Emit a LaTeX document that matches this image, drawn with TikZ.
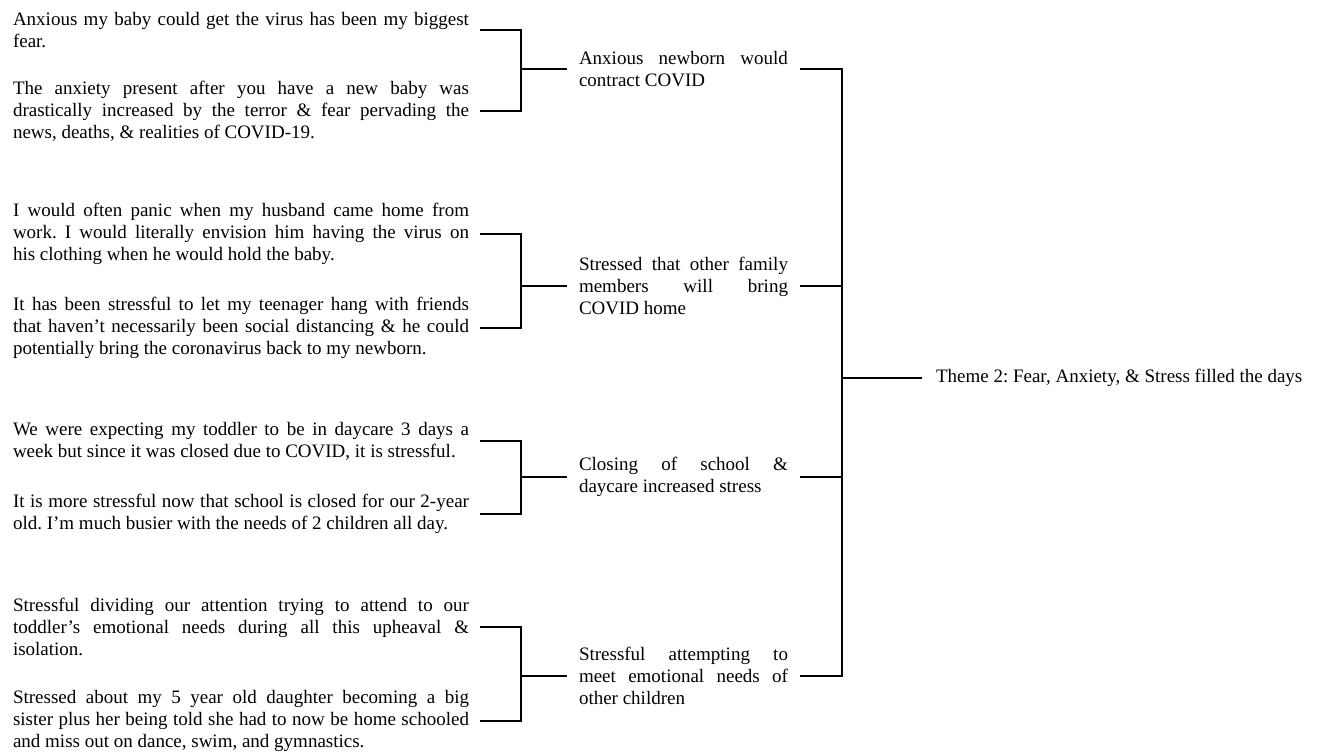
\documentclass[tikz,border=0pt]{standalone}
\usepackage{fontspec}
\setmainfont{Liberation Serif}
\usepackage{tikz}

\tikzset{
  quote/.style={anchor=west, text width=342pt, align=justify, inner sep=0pt, outer xsep=8.25pt},
  subtheme/.style={anchor=west, text width=156.75pt, align=justify, inner sep=0pt, outer xsep=9pt},
  theme/.style={anchor=west, inner sep=0pt, outer xsep=10.5pt},
  link/.style={line width=1.3pt}
}

\begin{document}
\frenchspacing
\begin{tikzpicture}[x=0.75pt,y=0.75pt,yscale=-1,xscale=1,
  every node/.append style={font=\fontsize{14.25pt}{16.5pt}\selectfont}]
\useasboundingbox (0,0) rectangle (1323,755);

%Quotes: newborn
\node [quote] (q1) at (2,30) {Anxious my baby could get the virus has been my biggest\linebreak fear.};
\node [quote] (q2) at (2,111) {The anxiety present after you have a new baby was\linebreak drastically increased by the terror \& fear pervading the\linebreak news, deaths, \& realities of COVID-19.};
%Quotes: family
\node [quote] (q3) at (2,234) {I would often panic when my husband came home from\linebreak work. I would literally envision him having the virus on\linebreak his clothing when he would hold the baby.};
\node [quote] (q4) at (2,328) {It has been stressful to let my teenager hang with friends\linebreak that haven’t necessarily been social distancing \& he could\linebreak potentially bring the coronavirus back to my newborn.};
%Quotes: school
\node [quote] (q5) at (2,441) {We were expecting my toddler to be in daycare 3 days a\linebreak week but since it was closed due to COVID, it is stressful.};
\node [quote] (q6) at (2,514) {It is more stressful now that school is closed for our 2-year\linebreak old. I’m much busier with the needs of 2 children all day.};
%Quotes: children
\node [quote] (q7) at (2,627) {Stressful dividing our attention trying to attend to our\linebreak toddler’s emotional needs during all this upheaval \&\linebreak isolation.};
\node [quote] (q8) at (2,721) {Stressed about my 5 year old daughter becoming a big\linebreak sister plus her being told she had to now be home schooled\linebreak and miss out on dance, swim, and gymnastics.};

%Sub-themes
\node [subtheme] (m1) at (567,69) {Anxious newborn would\linebreak contract COVID};
\node [subtheme] (m2) at (567,286) {Stressed that other family\linebreak members will bring\linebreak COVID home};
\node [subtheme] (m3) at (567,477) {Closing of school \&\linebreak daycare increased stress};
\node [subtheme] (m4) at (567,676) {Stressful attempting to\linebreak meet emotional needs of\linebreak other children};

%Theme
\node [theme] (t) at (922,378) {Theme 2: Fear, Anxiety, \& Stress filled the days};

%Brackets
\draw [link] (q1.east) -- ++(41,0) |- (m1.west);
\draw [link] (q2.east) -- ++(41,0) |- (m1.west);
\draw [link] (q3.east) -- ++(41,0) |- (m2.west);
\draw [link] (q4.east) -- ++(41,0) |- (m2.west);
\draw [link] (q5.east) -- ++(41,0) |- (m3.west);
\draw [link] (q6.east) -- ++(41,0) |- (m3.west);
\draw [link] (q7.east) -- ++(41,0) |- (m4.west);
\draw [link] (q8.east) -- ++(41,0) |- (m4.west);

\draw [link] (m1.east) -- ++(42,0) |- (t.west);
\draw [link] (m2.east) -- ++(42,0) |- (t.west);
\draw [link] (m3.east) -- ++(42,0) |- (t.west);
\draw [link] (m4.east) -- ++(42,0) |- (t.west);

\end{tikzpicture}
\end{document}
